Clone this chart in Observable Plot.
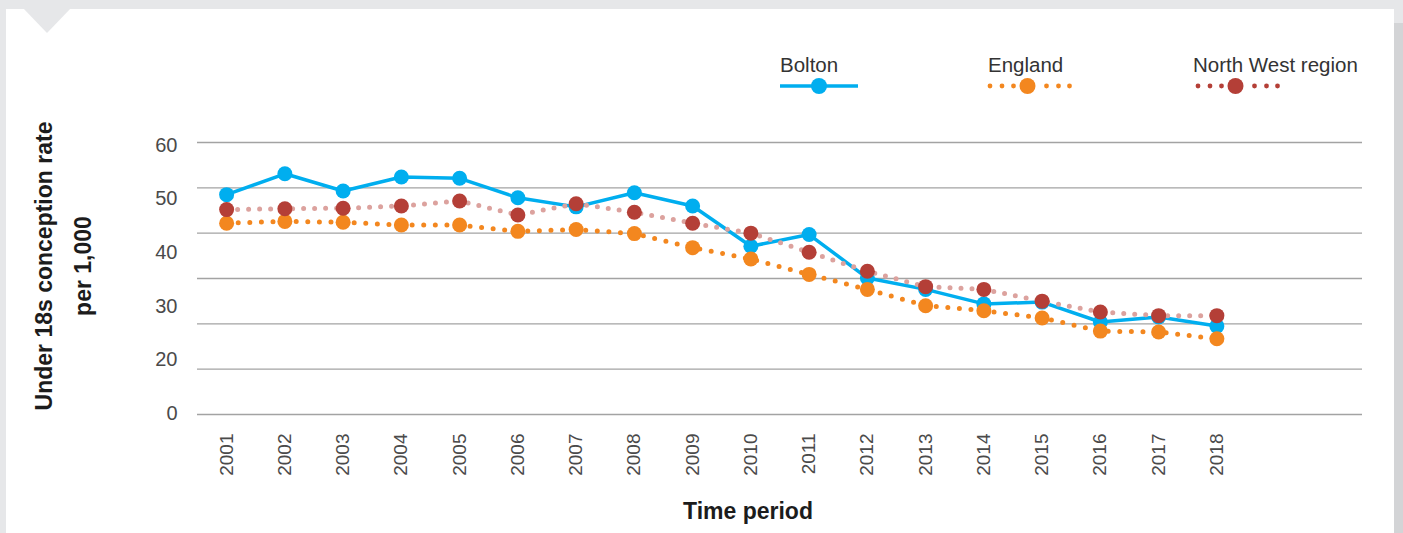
<!DOCTYPE html>
<html>
<head>
<meta charset="utf-8">
<script src="https://cdn.jsdelivr.net/npm/d3@7"></script>
<script src="https://cdn.jsdelivr.net/npm/@observablehq/plot@0.6"></script>
<style>
  html, body { margin: 0; padding: 0; }
  body { width: 1403px; height: 533px; background: #e6e7e9; position: relative; overflow: hidden;
         font-family: "Liberation Sans", Arial, Helvetica, sans-serif; }
  #card { position: absolute; left: 6px; top: 9px; width: 1388px; height: 524px; background: #ffffff; }
  #strip { position: absolute; left: 1394px; top: 23px; width: 9px; height: 510px; background: #d3d4d6; }
  #deco, #chart, #overlay { position: absolute; left: 0; top: 0; }
  #chart svg { display: block; }
</style>
</head>
<body>
<div id="card"></div>
<div id="strip"></div>
<svg id="deco" width="1403" height="533"><polygon points="23,8 71,8 47,33" fill="#e6e7e9"/></svg>
<div id="chart"></div>
<svg id="overlay" width="1403" height="533"></svg>
<script>
// ---- data ----
const years = [2001, 2002, 2003, 2004, 2005, 2006, 2007, 2008, 2009, 2010, 2011, 2012, 2013, 2014, 2015, 2016, 2017, 2018];
const bolton    = [48.5, 53.1, 49.3, 52.4, 52.1, 47.8, 45.8, 48.9, 46.0, 37.1, 39.7, 30.1, 27.6, 24.4, 24.8, 20.4, 21.5, 19.5];
const england   = [42.2, 42.6, 42.4, 41.8, 41.8, 40.4, 40.8, 39.9, 36.8, 34.3, 30.9, 27.6, 24.0, 22.9, 21.3, 18.4, 18.2, 16.7];
const northWest = [45.2, 45.4, 45.5, 46.0, 47.1, 44.0, 46.5, 44.6, 42.2, 40.0, 35.8, 31.6, 28.2, 27.6, 25.0, 22.6, 21.8, 21.8];
const seriesNames = ["Bolton", "England", "North West region"];
const gridValues = [0, 10, 20, 30, 40, 50, 60];
const yTickLabels = ["0", "20", "30", "40", "50", "60"];
// where the original places those labels (evenly spaced, not at their values)
const yTickPos = [0.3, 12.1, 23.9, 35.7, 47.6, 59.4];
const yAxisTitle = ["Under 18s conception rate", "per 1,000"];
const xAxisTitle = "Time period";

// ---- build tables ----
const rows = (vals, name) => years.map((y, i) => ({year: y, value: vals[i], series: name}));
const boltonRows = rows(bolton, seriesNames[0]);
const englandRows = rows(england, seriesNames[1]);
const nwRows = rows(northWest, seriesNames[2]);

const blue = "#00aeef", orange = "#f3871f", red = "#b43f37", pink = "#dca29e";
const yMax = 60;

const chart = Plot.plot({
  width: 1403,
  height: 533,
  marginLeft: 197,
  marginRight: 41,
  marginTop: 142,
  marginBottom: 119,
  style: {background: "transparent", fontFamily: "Liberation Sans, Arial, Helvetica, sans-serif", color: "#4a4a4a"},
  x: {type: "linear", domain: [2000.5, 2020.5]},
  y: {domain: [0, yMax]},
  marks: [
    Plot.ruleY(gridValues, {stroke: "#a3a3a3", strokeWidth: 1.4}),
    Plot.axisY(yTickPos, {tickSize: 0, tickPadding: 20, fontSize: 20, label: null,
      tickFormat: d => yTickLabels[yTickPos.indexOf(d)], fill: "#4a4a4a"}),
    Plot.axisX(years, {tickSize: 0, tickPadding: 19, fontSize: 19, tickRotate: -90, label: null,
      tickFormat: d => String(d), fill: "#4a4a4a"}),
    // Bolton
    Plot.line(boltonRows, {x: "year", y: "value", stroke: blue, strokeWidth: 3.5}),
    Plot.dot(boltonRows, {x: "year", y: "value", r: 7.5, fill: blue}),
    // England
    Plot.line(englandRows, {x: "year", y: "value", stroke: orange, strokeWidth: 5,
      strokeDasharray: "0,11.6", strokeLinecap: "round"}),
    Plot.dot(englandRows, {x: "year", y: "value", r: 7.5, fill: orange}),
    // North West
    Plot.line(nwRows, {x: "year", y: "value", stroke: pink, strokeWidth: 5,
      strokeDasharray: "0,11", strokeLinecap: "round"}),
    Plot.dot(nwRows, {x: "year", y: "value", r: 7.5, fill: red})
  ]
});
document.getElementById("chart").appendChild(chart);

// ---- titles and legend ----
const ov = d3.select("#overlay");
ov.append("text").attr("transform", "translate(44,266) rotate(-90)")
  .attr("text-anchor", "middle").attr("dominant-baseline", "central")
  .attr("font-size", 23).attr("font-weight", "bold").attr("fill", "#1c1c1c").text(yAxisTitle[0]);
ov.append("text").attr("transform", "translate(83,266) rotate(-90)")
  .attr("text-anchor", "middle").attr("dominant-baseline", "central")
  .attr("font-size", 23).attr("font-weight", "bold").attr("fill", "#1c1c1c").text(yAxisTitle[1]);
ov.append("text").attr("x", 748).attr("y", 519).attr("text-anchor", "middle")
  .attr("font-size", 23).attr("font-weight", "bold").attr("fill", "#1c1c1c").text(xAxisTitle);

const legendItems = [
  {name: seriesNames[0], x: 780, tx: 780, color: blue, style: "solid"},
  {name: seriesNames[1], x: 988, tx: 988, color: orange, lineColor: orange, style: "dots"},
  {name: seriesNames[2], x: 1196, tx: 1193, color: red, lineColor: red, style: "dots"}
];
legendItems.forEach(it => {
  const g = ov.append("g");
  g.append("text").attr("x", it.tx).attr("y", 72).attr("font-size", 20.5).attr("fill", "#333").text(it.name);
  if (it.style === "solid") {
    g.append("line").attr("x1", it.x).attr("x2", it.x + 78).attr("y1", 86).attr("y2", 86)
      .attr("stroke", it.color).attr("stroke-width", 3.5);
    g.append("circle").attr("cx", it.x + 39).attr("cy", 86).attr("r", 8).attr("fill", it.color);
  } else {
    [2, 14, 25.5, 58.5, 70.5, 81.5].forEach(dx =>
      g.append("circle").attr("cx", it.x + dx).attr("cy", 86).attr("r", 2.4).attr("fill", it.lineColor));
    g.append("circle").attr("cx", it.x + 39.5).attr("cy", 86).attr("r", 8).attr("fill", it.color);
  }
});
</script>
</body>
</html>
